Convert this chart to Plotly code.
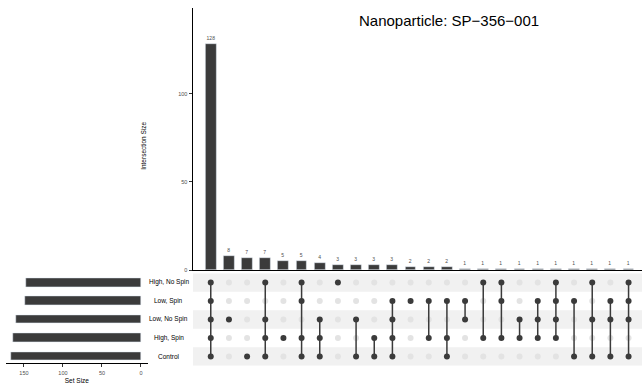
import plotly.graph_objects as go

# ---- data ----
set_names = ["High, No Spin", "Low, Spin", "Low, No Spin", "High, Spin", "Control"]
set_sizes = [148, 149, 160, 164, 166]

intersection_sizes = [128, 8, 7, 7, 5, 5, 4, 3, 3, 3, 3, 2, 2, 2, 1, 1, 1, 1, 1, 1, 1, 1, 1, 1]
# membership of each intersection (indices into set_names)
intersection_sets = [
    [0, 1, 2, 3, 4], [2], [4], [0, 2, 3, 4], [3], [0, 1, 3, 4], [2, 3, 4], [0],
    [2, 4], [3, 4], [1, 2, 3, 4], [1], [1, 3], [1, 3, 4], [1, 2], [0, 3],
    [0, 1, 3], [2, 3], [1, 2, 3], [0, 1, 2, 3], [1, 4], [0, 2, 4], [1, 2, 4], [0, 1, 2, 4],
]
title_text = "Nanoparticle: SP\u2212356\u2212001"

W, H = 642, 389
DARK = "#3B3B3B"
EMPTY = "#E3E3E3"
SHADE = "#F1F1F1"
TXT = "#4D4D4D"
FONT = "Liberation Sans, Arial, Helvetica, sans-serif"

def py(p):
    return 1 - p / H

def px(p):
    return p / W

ncol = len(intersection_sizes)
cols = list(range(1, ncol + 1))

fig = go.Figure()

# main intersection bars
fig.add_trace(go.Bar(
    x=cols, y=intersection_sizes, marker_color=DARK, width=0.6,
    text=[str(v) for v in intersection_sizes], textposition="outside",
    textfont=dict(size=5, color=TXT, family=FONT), cliponaxis=False,
    xaxis="x", yaxis="y", showlegend=False, hoverinfo="skip",
))

# matrix dots
ex, ey, fx, fy = [], [], [], []
for c, members in zip(cols, intersection_sets):
    for r in range(len(set_names)):
        if r in members:
            fx.append(c); fy.append(r)
        else:
            ex.append(c); ey.append(r)
fig.add_trace(go.Scatter(x=ex, y=ey, mode="markers", marker=dict(size=6, color=EMPTY),
                         xaxis="x2", yaxis="y2", showlegend=False, hoverinfo="skip"))
lx, ly = [], []
for c, members in zip(cols, intersection_sets):
    if len(members) > 1:
        lx += [c, c, None]
        ly += [min(members), max(members), None]
fig.add_trace(go.Scatter(x=lx, y=ly, mode="lines", line=dict(color=DARK, width=1.5),
                         xaxis="x2", yaxis="y2", showlegend=False, hoverinfo="skip"))
fig.add_trace(go.Scatter(x=fx, y=fy, mode="markers", marker=dict(size=6, color=DARK),
                         xaxis="x2", yaxis="y2", showlegend=False, hoverinfo="skip"))

# set size bars
fig.add_trace(go.Bar(
    x=set_sizes, y=list(range(len(set_names))), orientation="h", marker_color=DARK,
    width=0.47, xaxis="x3", yaxis="y3", showlegend=False, hoverinfo="skip",
))

# stripes
shapes = []
for r in range(len(set_names)):
    if r % 2 == 0:
        shapes.append(dict(type="rect", xref="paper", yref="y2", x0=px(193), x1=1,
                           y0=r - 0.5, y1=r + 0.5, fillcolor=SHADE, line_width=0, layer="below"))

annotations = []
for r, name in enumerate(set_names):
    annotations.append(dict(x=px(168.5), y=r, xref="paper", yref="y2", text=name,
                            xanchor="center", yanchor="middle",
                            showarrow=False, font=dict(size=6.5, color="black", family=FONT)))
annotations.append(dict(x=px(144), y=py(147), xref="paper", yref="paper", text="Intersection Size",
                        xanchor="center", yanchor="middle",
                        textangle=-90, showarrow=False, font=dict(size=6.5, color="black", family=FONT)))
annotations.append(dict(x=px(449), y=py(21), xref="paper", yref="paper", text=title_text,
                        xanchor="center", yanchor="middle",
                        showarrow=False, font=dict(size=15, color="black", family=FONT)))

mat_dom = [py(368.5), py(275.3)]
xr = [0.0, 24.74]

fig.update_layout(
    width=W, height=H, margin=dict(l=0, r=0, t=0, b=0),
    paper_bgcolor="white", plot_bgcolor="rgba(0,0,0,0)",
    font=dict(family=FONT, color=TXT),
    shapes=shapes, annotations=annotations, bargap=0,
    xaxis=dict(domain=[px(192.6), 1], range=xr, showgrid=False, zeroline=False,
               showticklabels=False, showline=True, linecolor="black", linewidth=1.2, ticks=""),
    yaxis=dict(domain=[py(272.3), py(8)], range=[0, 148.5], showgrid=False, zeroline=False,
               showline=True, linecolor="black", linewidth=1.2, ticks="outside", ticklen=3,
               tickcolor="#333333", tickvals=[0, 50, 100], tickfont=dict(size=5.5, color=TXT)),
    xaxis2=dict(domain=[px(192.6), 1], range=xr, showgrid=False, zeroline=False,
                showticklabels=False, showline=False, anchor="y2"),
    yaxis2=dict(domain=mat_dom, range=[4.5, -0.5], showgrid=False, zeroline=False,
                showticklabels=False, showline=False, anchor="x2"),
    xaxis3=dict(domain=[px(6), px(147.7)], range=[173, -8.6], showgrid=False, zeroline=False,
                showline=True, linecolor="black", linewidth=1, ticks="outside", ticklen=3,
                tickcolor="#333333", tickvals=[0, 50, 100, 150], tickfont=dict(size=5.5, color=TXT),
                ticklabelstandoff=2,
                anchor="y3", title=dict(text="Set Size", font=dict(size=6.5, color="black"), standoff=3)),
    yaxis3=dict(domain=[py(365.5), py(275.3)], range=[4.5 - 0.14, -0.5], showgrid=False, zeroline=False,
                showticklabels=False, showline=False, anchor="x3"),
)

fig.write_html("out.html")
